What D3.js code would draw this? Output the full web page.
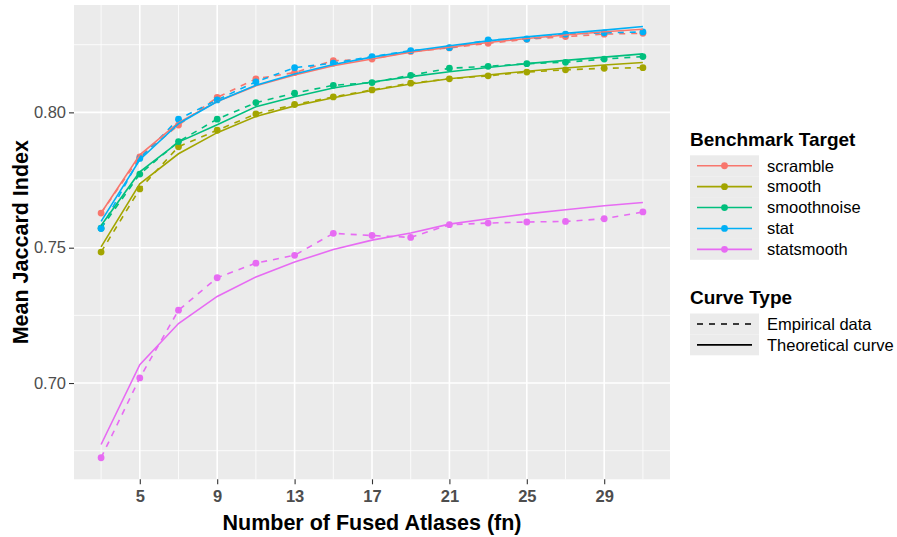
<!DOCTYPE html>
<html><head><meta charset="utf-8">
<script src="https://cdn.jsdelivr.net/npm/d3@7"></script>
<style>body{margin:0;background:#fff}svg{display:block}text{font-family:"Liberation Sans",Arial,Helvetica,sans-serif}</style>
</head><body><svg id="c" width="897" height="537"></svg>
<script>
const fn = [3,5,7,9,11,13,15,17,19,21,23,25,27,29,31];
const targets = ["scramble","smooth","smoothnoise","stat","statsmooth"];
const colors = ["#F8766D","#A3A500","#00BF7D","#00B0F6","#E76BF3"];
const xTicks = [5,9,13,17,21,25,29];
const yTicks = [0.70,0.75,0.80];
const curveTypes = ["Empirical data","Theoretical curve"];

const empScramble   = [0.7628,0.7835,0.7953,0.8055,0.8124,0.8147,0.8191,0.8197,0.8225,0.8238,0.8255,0.8270,0.8280,0.8289,0.8292];
const empSmooth     = [0.7484,0.7717,0.7873,0.7934,0.7994,0.8029,0.8057,0.8083,0.8108,0.8124,0.8135,0.8149,0.8157,0.8163,0.8165];
const empSmoothnoise= [0.7572,0.7772,0.7892,0.7975,0.8036,0.8071,0.8100,0.8110,0.8137,0.8163,0.8170,0.8180,0.8185,0.8197,0.8206];
const empStat       = [0.7571,0.7830,0.7975,0.8046,0.8113,0.8165,0.8182,0.8206,0.8228,0.8239,0.8268,0.8271,0.8289,0.8294,0.8297];
const empStatsmooth = [0.6724,0.7019,0.7269,0.7389,0.7443,0.7472,0.7553,0.7545,0.7538,0.7585,0.7591,0.7595,0.7597,0.7607,0.7632];

const thScramble    = [0.7628,0.7843,0.7962,0.8040,0.8098,0.8138,0.8172,0.8197,0.8222,0.8241,0.8258,0.8273,0.8286,0.8298,0.8307];
const thSmooth      = [0.7503,0.7736,0.7847,0.7925,0.7985,0.8024,0.8054,0.8081,0.8105,0.8124,0.8138,0.8152,0.8164,0.8175,0.8184];
const thSmoothnoise = [0.7582,0.7780,0.7890,0.7954,0.8021,0.8058,0.8090,0.8112,0.8132,0.8150,0.8166,0.8180,0.8192,0.8204,0.8216];
const thStat        = [0.7597,0.7825,0.7958,0.8040,0.8100,0.8142,0.8177,0.8204,0.8227,0.8246,0.8264,0.8279,0.8292,0.8304,0.8317];
const thStatsmooth  = [0.6773,0.7068,0.7220,0.7320,0.7392,0.7447,0.7493,0.7528,0.7554,0.7587,0.7607,0.7625,0.7640,0.7655,0.7667];

const emp = [empScramble,empSmooth,empSmoothnoise,empStat,empStatsmooth];
const th  = [thScramble,thSmooth,thSmoothnoise,thStat,thStatsmooth];

const svg = d3.select("#c");
const P = {l:74, r:670, t:5, b:479.3};

const allY = emp.concat(th).flat();
const yMin = d3.min(allY), yMax = d3.max(allY), yPad = (yMax-yMin)*0.05;
const xPad = (d3.max(fn)-d3.min(fn))*0.05;
const x = d3.scaleLinear().domain([d3.min(fn)-xPad, d3.max(fn)+xPad]).range([P.l,P.r]);
const y = d3.scaleLinear().domain([yMin-yPad, yMax+yPad]).range([P.b,P.t]);

svg.append("rect").attr("width",897).attr("height",537).attr("fill","#fff");
svg.append("rect").attr("x",P.l).attr("y",P.t).attr("width",P.r-P.l).attr("height",P.b-P.t).attr("fill","#EBEBEB");

// minor grid
const xMinor = [3,7,11,15,19,23,27,31];
const yMinor = [0.675,0.725,0.775,0.825];
const g = svg.append("g");
g.selectAll(".xm").data(xMinor).join("line").attr("x1",d=>x(d)).attr("x2",d=>x(d)).attr("y1",P.t).attr("y2",P.b).attr("stroke","#fff").attr("stroke-width",0.8);
g.selectAll(".ym").data(yMinor).join("line").attr("y1",d=>y(d)).attr("y2",d=>y(d)).attr("x1",P.l).attr("x2",P.r).attr("stroke","#fff").attr("stroke-width",0.8);
g.selectAll(".xM").data(xTicks).join("line").attr("x1",d=>x(d)).attr("x2",d=>x(d)).attr("y1",P.t).attr("y2",P.b).attr("stroke","#fff").attr("stroke-width",1.6);
g.selectAll(".yM").data(yTicks).join("line").attr("y1",d=>y(d)).attr("y2",d=>y(d)).attr("x1",P.l).attr("x2",P.r).attr("stroke","#fff").attr("stroke-width",1.6);

// axes
const xAxis = d3.axisBottom(x).tickValues(xTicks).tickFormat(d3.format("d")).tickSize(5).tickPadding(6);
const yAxis = d3.axisLeft(y).tickValues(yTicks).tickFormat(d3.format(".2f")).tickSize(5).tickPadding(3);
const gx = svg.append("g").attr("transform",`translate(0,${P.b})`).call(xAxis);
const gy = svg.append("g").attr("transform",`translate(${P.l},0)`).call(yAxis);
[gx,gy].forEach(a=>{a.select(".domain").remove();a.selectAll(".tick line").attr("stroke","#333").attr("stroke-width",1.1);});
gx.selectAll("text").attr("fill","#4D4D4D").attr("font-size","16.5px").attr("font-weight","bold").attr("font-family","Liberation Sans, Arial, sans-serif");
gy.selectAll("text").attr("fill","#4D4D4D").attr("font-size","16.5px").attr("font-family","Liberation Sans, Arial, sans-serif");

svg.append("text").attr("x",(P.l+P.r)/2).attr("y",530).attr("text-anchor","middle").attr("font-size","21.5px").attr("font-weight","bold").attr("fill","#000").text("Number of Fused Atlases (fn)");
svg.append("text").attr("transform",`translate(28,${(P.t+P.b)/2}) rotate(-90)`).attr("text-anchor","middle").attr("font-size","21.5px").attr("font-weight","bold").attr("fill","#000").text("Mean Jaccard Index");

const line = d3.line().x((d,i)=>x(fn[i])).y(d=>y(d));
const plot = svg.append("g");
emp.forEach((s,k)=>{
  plot.append("path").attr("d",line(s)).attr("fill","none").attr("stroke",colors[k]).attr("stroke-width",1.6).attr("stroke-dasharray","6,6");
});
emp.forEach((s,k)=>{
  plot.append("g").selectAll("circle").data(s).join("circle").attr("cx",(d,i)=>x(fn[i])).attr("cy",d=>y(d)).attr("r",3.4).attr("fill",colors[k]);
});
th.forEach((s,k)=>{
  plot.append("path").attr("d",line(s)).attr("fill","none").attr("stroke",colors[k]).attr("stroke-width",1.6);
});

// legend
const L = svg.append("g");
L.append("text").attr("x",690).attr("y",146).attr("font-size","19px").attr("font-weight","bold").text("Benchmark Target");
const rowH = 20.9, top1 = 155.3;
targets.forEach((t,k)=>{
  const cy = top1 + rowH*k + rowH/2;
  L.append("rect").attr("x",690).attr("y",top1+rowH*k).attr("width",69).attr("height",rowH).attr("fill","#EBEBEB");
  L.append("line").attr("x1",697).attr("x2",752).attr("y1",cy).attr("y2",cy).attr("stroke",colors[k]).attr("stroke-width",1.6);
  L.append("circle").attr("cx",724.5).attr("cy",cy).attr("r",3.4).attr("fill",colors[k]);
  L.append("text").attr("x",767).attr("y",cy).attr("dy","0.35em").attr("font-size","16.5px").attr("fill","#000").text(t);
});
L.append("text").attr("x",690).attr("y",304).attr("font-size","19px").attr("font-weight","bold").text("Curve Type");
const top2 = 313.5;
curveTypes.forEach((t,k)=>{
  const cy = top2 + rowH*k + rowH/2;
  L.append("rect").attr("x",690).attr("y",top2+rowH*k).attr("width",69).attr("height",rowH).attr("fill","#EBEBEB");
  L.append("line").attr("x1",697).attr("x2",752).attr("y1",cy).attr("y2",cy).attr("stroke","#000").attr("stroke-width",1.6).attr("stroke-dasharray",k===0?"6,6":null);
  L.append("text").attr("x",767).attr("y",cy).attr("dy","0.35em").attr("font-size","16.5px").attr("fill","#000").text(t);
});
</script></body></html>
